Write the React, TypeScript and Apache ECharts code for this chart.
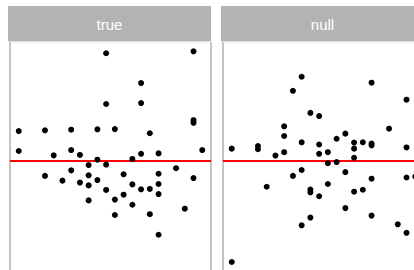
import React, { useEffect, useRef } from "react";
import * as echarts from "echarts";

const panelLabels = ["true", "null"];

const trueX = [10, 20, 14, 10, 14, 20, 20, 0, 3, 6, 9, 11, 15, 0, 6, 21, 4, 7, 14, 16, 13, 9, 8, 10, 18, 6, 12, 16, 3, 8, 20, 5, 9, 7, 13, 16, 8, 14, 15, 10, 16, 12, 11, 8, 13, 19, 11, 15, 16];
const trueY = [5.43, 5.53, 3.92, 2.86, 2.91, 2.04, 1.91, 1.49, 1.53, 1.56, 1.58, 1.59, 1.38, 0.48, 0.53, 0.53, 0.26, 0.28, 0.34, 0.36, 0.08, 0.04, -0.23, -0.21, -0.39, -0.5, -0.7, -0.67, -0.78, -0.75, -0.89, -1.02, -0.99, -1.12, -1.21, -1.19, -1.26, -1.46, -1.44, -1.49, -1.7, -1.73, -1.98, -2.02, -2.24, -2.44, -2.76, -2.72, -3.76];

const nullX = [8, 7, 16, 20, 9, 10, 6, 18, 13, 6, 12, 8, 14, 15, 16, 16, 10, 3, 3, 0, 14, 20, 6, 11, 10, 5, 14, 12, 11, 8, 13, 7, 21, 20, 16, 11, 4, 15, 9, 9, 14, 10, 13, 16, 9, 19, 8, 20, 0];
const nullY = [4.24, 3.53, 3.94, 3.08, 2.41, 2.25, 1.73, 1.61, 1.36, 1.24, 1.1, 0.92, 0.91, 0.92, 0.86, 0.77, 0.81, 0.73, 0.57, 0.6, 0.6, 0.66, 0.42, 0.42, 0.34, 0.25, 0.14, -0.08, -0.14, -0.48, -0.59, -0.78, -0.81, -0.86, -0.92, -1.19, -1.33, -1.48, -1.47, -1.61, -1.58, -1.81, -2.41, -2.79, -2.89, -3.23, -3.28, -3.66, -5.14];

const refValue = 0;
const xMin = -1;
const xMax = 22;
const yMin = -6;
const yMax = 6;

const panels = [
  { label: panelLabels[0], xs: trueX, ys: trueY },
  { label: panelLabels[1], xs: nullX, ys: nullY },
];

export default function App() {
  const ref = useRef<HTMLDivElement>(null);
  useEffect(() => {
    if (!ref.current) return;
    const chart = echarts.init(ref.current, null, { renderer: "svg" });
    const lefts = [10, 223];
    const gw = 201;
    const gTop = 42;
    const gH = 237;
    const graphics: any[] = [];
    panels.forEach((p, i) => {
      const l = lefts[i];
      graphics.push({
        type: "rect",
        shape: { x: l - 2, y: 6, width: gw + 2, height: 35.5 },
        style: { fill: "#b3b3b3" },
        silent: true,
      });
      graphics.push({
        type: "text",
        x: l - 2 + (gw + 2) / 2,
        y: 24.5,
        style: {
          text: p.label,
          fill: "#ffffff",
          font: "15px 'Liberation Sans', Arial, sans-serif",
          textAlign: "center",
          textVerticalAlign: "middle",
        },
        silent: true,
      });
      graphics.push({
        type: "line",
        shape: { x1: l - 2, y1: 42, x2: l + gw, y2: 42 },
        style: { stroke: "#e6e6e6", lineWidth: 1 },
        silent: true,
      });
      graphics.push({
        type: "line",
        shape: { x1: l, y1: 42, x2: l, y2: 300 },
        style: { stroke: "#c4c4c4", lineWidth: 2 },
        silent: true,
      });
      graphics.push({
        type: "line",
        shape: { x1: l + gw, y1: 42, x2: l + gw, y2: 300 },
        style: { stroke: "#c4c4c4", lineWidth: 2 },
        silent: true,
      });
    });
    chart.setOption({
      animation: false,
      backgroundColor: "#ffffff",
      grid: panels.map((_, i) => ({
        left: lefts[i],
        top: gTop,
        width: gw,
        height: gH,
        show: false,
      })),
      xAxis: panels.map((_, i) => ({
        type: "value",
        gridIndex: i,
        min: xMin,
        max: xMax,
        show: false,
      })),
      yAxis: panels.map((_, i) => ({
        type: "value",
        gridIndex: i,
        min: yMin,
        max: yMax,
        show: false,
      })),
      series: panels.map((p, i) => ({
        type: "scatter",
        xAxisIndex: i,
        yAxisIndex: i,
        symbol: "circle",
        symbolSize: 6,
        itemStyle: { color: "#000000", opacity: 1 },
        data: p.xs.map((x, j) => [x, p.ys[j]]),
        z: 3,
        markLine: {
          silent: true,
          symbol: "none",
          label: { show: false },
          lineStyle: { color: "#ff0000", width: 2, type: "solid", opacity: 1 },
          data: [{ yAxis: refValue }],
          z: 2,
        },
      })),
      graphic: graphics,
    });
    return () => chart.dispose();
  }, []);
  return (
    <div
      style={{
        position: "fixed",
        left: 0,
        top: 0,
        width: 414,
        height: 270,
        overflow: "hidden",
        background: "#fff",
      }}
    >
      <div ref={ref} style={{ width: 440, height: 300 }} />
    </div>
  );
}
